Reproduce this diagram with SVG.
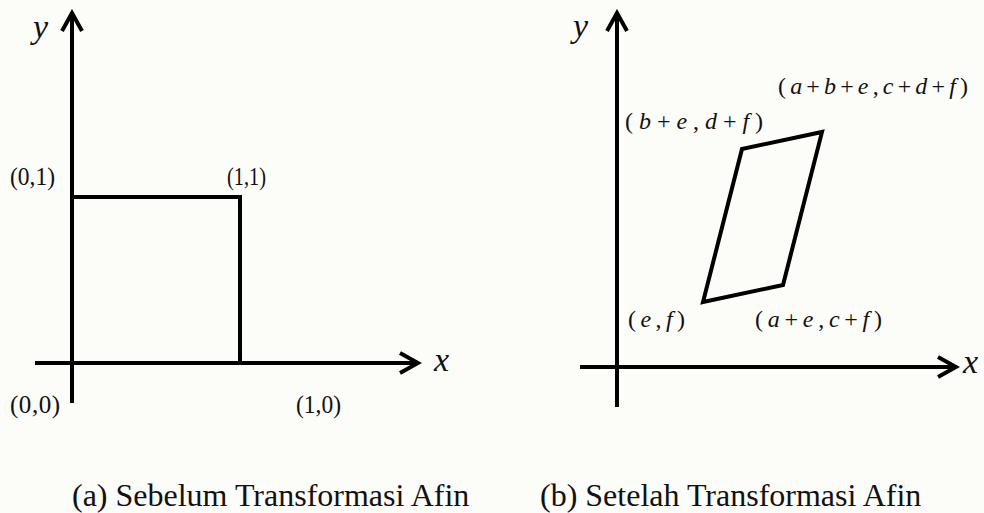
<svg xmlns="http://www.w3.org/2000/svg" width="984" height="513" viewBox="0 0 984 513">
<defs>
<style>
text{font-family:"Liberation Serif","Times New Roman",serif;fill:#111;}
.i{font-style:italic;}
.lbl{font-size:25px;}
.lbr{font-size:24px;}
.ax{font-size:34px;font-style:italic;}
.cap{font-size:32px;}
.axis{stroke:#000;stroke-width:4;fill:none;marker-end:url(#arr);}
.shape{stroke:#000;stroke-width:4;fill:none;stroke-linejoin:miter;}
</style>
<marker id="arr" markerUnits="userSpaceOnUse" viewBox="-22 -14 26 28" markerWidth="26" markerHeight="28" refX="0" refY="0" orient="auto">
<path d="M-18,-10 L0,0 L-18,10" fill="none" stroke="#000" stroke-width="4" stroke-linejoin="miter"/>
</marker>
</defs>
<rect x="0" y="0" width="984" height="513" fill="#fcfcf8"/>

<g id="connectors">
<line class="axis" x1="72" y1="403" x2="72" y2="13"/>
<line class="axis" x1="35" y1="363" x2="418" y2="363"/>
<line class="axis" x1="617" y1="407" x2="617" y2="13"/>
<line class="axis" x1="580" y1="367" x2="956" y2="367"/>
</g>

<g id="square">
<rect class="shape" x="72" y="197" width="168" height="166"/>
</g>

<g id="parallelogram">
<polygon class="shape" points="703,302 783,285 822,132 742,149"/>
</g>

<g id="axis-labels-a">
<text class="ax" x="33" y="38">y</text>
<text class="ax" x="434" y="371">x</text>
</g>
<g id="axis-labels-b">
<text class="ax" x="573" y="37">y</text>
<text class="ax" x="963" y="373">x</text>
</g>

<g id="labels-a">
<text class="lbl" x="10" y="185" textLength="45" lengthAdjust="spacingAndGlyphs">(0,1)</text>
<text class="lbl" x="227" y="185" textLength="39" lengthAdjust="spacingAndGlyphs">(1,1)</text>
<text class="lbl" x="10" y="413" textLength="50" lengthAdjust="spacing">(0,0)</text>
<text class="lbl" x="296" y="413" textLength="45" lengthAdjust="spacingAndGlyphs">(1,0)</text>
</g>

<g id="labels-b">
<text class="lbr" x="778" y="94" textLength="190" lengthAdjust="spacing">(<tspan class="i">a</tspan>+<tspan class="i">b</tspan>+<tspan class="i">e</tspan>,<tspan class="i">c</tspan>+<tspan class="i">d</tspan>+<tspan class="i">f</tspan>)</text>
<text class="lbr" x="625" y="129" textLength="138" lengthAdjust="spacing">(<tspan class="i">b</tspan>+<tspan class="i">e</tspan>,<tspan class="i">d</tspan>+<tspan class="i">f</tspan>)</text>
<text class="lbr" x="628" y="327" textLength="57" lengthAdjust="spacing">(<tspan class="i">e</tspan>,<tspan class="i">f</tspan>)</text>
<text class="lbr" x="755" y="327" textLength="127" lengthAdjust="spacing">(<tspan class="i">a</tspan>+<tspan class="i">e</tspan>,<tspan class="i">c</tspan>+<tspan class="i">f</tspan>)</text>
</g>

<g id="captions">
<text class="cap" x="72" y="506">(a) Sebelum Transformasi Afin</text>
<text class="cap" x="540" y="506">(b) Setelah Transformasi Afin</text>
</g>
</svg>
